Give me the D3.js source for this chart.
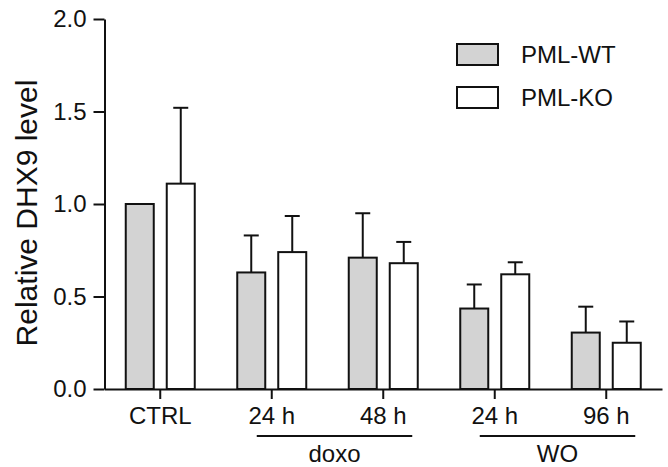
<!DOCTYPE html>
<html>
<head>
<meta charset="utf-8">
<script src="https://cdn.jsdelivr.net/npm/d3@7"></script>
<style>
  body { margin: 0; background: #fff; }
  svg { display: block; font-family: "Liberation Sans", Arial, sans-serif; }
</style>
</head>
<body>
<div id="chart"></div>
<script>
const width = 668, height = 467;

// data
const categoryIds = ["ctrl", "doxo24", "doxo48", "wo24", "wo96"];
const categoryLabels = ["CTRL", "24 h", "48 h", "24 h", "96 h"];
const seriesNames = ["PML-WT", "PML-KO"];
const wtMeans = [1.00, 0.63, 0.71, 0.435, 0.305];
const wtErrors = [0, 0.20, 0.24, 0.13, 0.14];
const koMeans = [1.11, 0.74, 0.68, 0.62, 0.25];
const koErrors = [0.41, 0.195, 0.115, 0.065, 0.115];
const groups = [
  { label: "doxo", from: "doxo24", to: "doxo48" },
  { label: "WO", from: "wo24", to: "wo96" }
];
const yTicks = [0, 0.5, 1.0, 1.5, 2.0];
const seriesFill = ["#d3d3d3", "#ffffff"];

let svg = d3.select("#chart")
  .append("svg")
  .attr("width", width)
  .attr("height", height);

let x0 = d3.scaleBand()
  .domain(categoryIds)
  .range([104.5, 662]);

let x1 = d3.scaleBand()
  .domain(seriesNames)
  .range([-34.5, 34.5])
  .paddingInner(0.317);

let y = d3.scaleLinear()
  .domain([0, 2])
  .range([389, 19]);

let rows = [];
categoryIds.forEach(function(id, i) {
  rows.push({ cat: id, series: seriesNames[0], mean: wtMeans[i], err: wtErrors[i], fill: seriesFill[0] });
  rows.push({ cat: id, series: seriesNames[1], mean: koMeans[i], err: koErrors[i], fill: seriesFill[1] });
});

const barX = (d) => x0(d.cat) + x0.bandwidth() / 2 + x1(d.series);
const barMid = (d) => barX(d) + x1.bandwidth() / 2;

// error bars (upper only), drawn first so bars sit on top
let errs = svg.append("g")
  .attr("class", "errors")
  .attr("stroke", "#111")
  .attr("stroke-width", 2)
  .selectAll("g")
  .data(rows.filter((d) => d.err > 0))
  .enter().append("g");

errs.append("line")
  .attr("x1", barMid)
  .attr("x2", barMid)
  .attr("y1", (d) => y(d.mean))
  .attr("y2", (d) => y(d.mean + d.err));

errs.append("line")
  .attr("x1", (d) => barMid(d) - 7.5)
  .attr("x2", (d) => barMid(d) + 7.5)
  .attr("y1", (d) => y(d.mean + d.err))
  .attr("y2", (d) => y(d.mean + d.err));

svg.append("g")
  .attr("class", "bars")
  .selectAll("rect")
  .data(rows)
  .enter().append("rect")
  .attr("x", barX)
  .attr("y", (d) => y(d.mean))
  .attr("width", x1.bandwidth())
  .attr("height", (d) => y(0) - y(d.mean))
  .attr("fill", (d) => d.fill)
  .attr("stroke", "#111")
  .attr("stroke-width", 2);

// axes
let yAxis = svg.append("g")
  .attr("transform", "translate(104.5,0)")
  .call(d3.axisLeft(y)
    .tickValues(yTicks)
    .tickFormat(d3.format(".1f"))
    .tickSize(11)
    .tickSizeOuter(0)
    .tickPadding(7));

let xAxis = svg.append("g")
  .attr("transform", "translate(0,389)")
  .call(d3.axisBottom(x0)
    .tickFormat((d, i) => categoryLabels[i])
    .tickSize(10)
    .tickSizeOuter(0)
    .tickPadding(8));

[yAxis, xAxis].forEach(function(a) {
  a.selectAll("path, line").attr("stroke", "#111").attr("stroke-width", 2);
  a.selectAll("text")
    .attr("fill", "#111")
    .style("font-size", "24px")
    .style("font-family", "'Liberation Sans', Arial, sans-serif");
});

svg.append("text")
  .attr("transform", "translate(36.5,213) rotate(-90)")
  .attr("text-anchor", "middle")
  .attr("fill", "#111")
  .style("font-size", "30px")
  .text("Relative DHX9 level");

// group brackets under the x axis
let grp = svg.append("g")
  .attr("class", "groups")
  .selectAll("g")
  .data(groups)
  .enter().append("g");

const gStart = (g) => x0(g.from) + x0.bandwidth() / 2 - 15;
const gEnd = (g) => x0(g.to) + x0.bandwidth() / 2 + 29;

grp.append("line")
  .attr("x1", gStart)
  .attr("x2", gEnd)
  .attr("y1", 436)
  .attr("y2", 436)
  .attr("stroke", "#111")
  .attr("stroke-width", 2);

grp.append("text")
  .attr("x", (g) => (gStart(g) + gEnd(g)) / 2)
  .attr("y", 462)
  .attr("text-anchor", "middle")
  .attr("fill", "#111")
  .style("font-size", "24px")
  .text((g) => g.label);

// legend
let legend = svg.append("g")
  .attr("class", "legend")
  .selectAll("g")
  .data(seriesNames)
  .enter().append("g")
  .attr("transform", (d, i) => "translate(457," + (44 + i * 43) + ")");

legend.append("rect")
  .attr("width", 41)
  .attr("height", 21)
  .attr("fill", (d, i) => seriesFill[i])
  .attr("stroke", "#111")
  .attr("stroke-width", 2);

legend.append("text")
  .attr("x", 64)
  .attr("y", 11)
  .attr("dy", "0.35em")
  .attr("fill", "#111")
  .style("font-size", "24px")
  .text((d) => d);
</script>
</body>
</html>
